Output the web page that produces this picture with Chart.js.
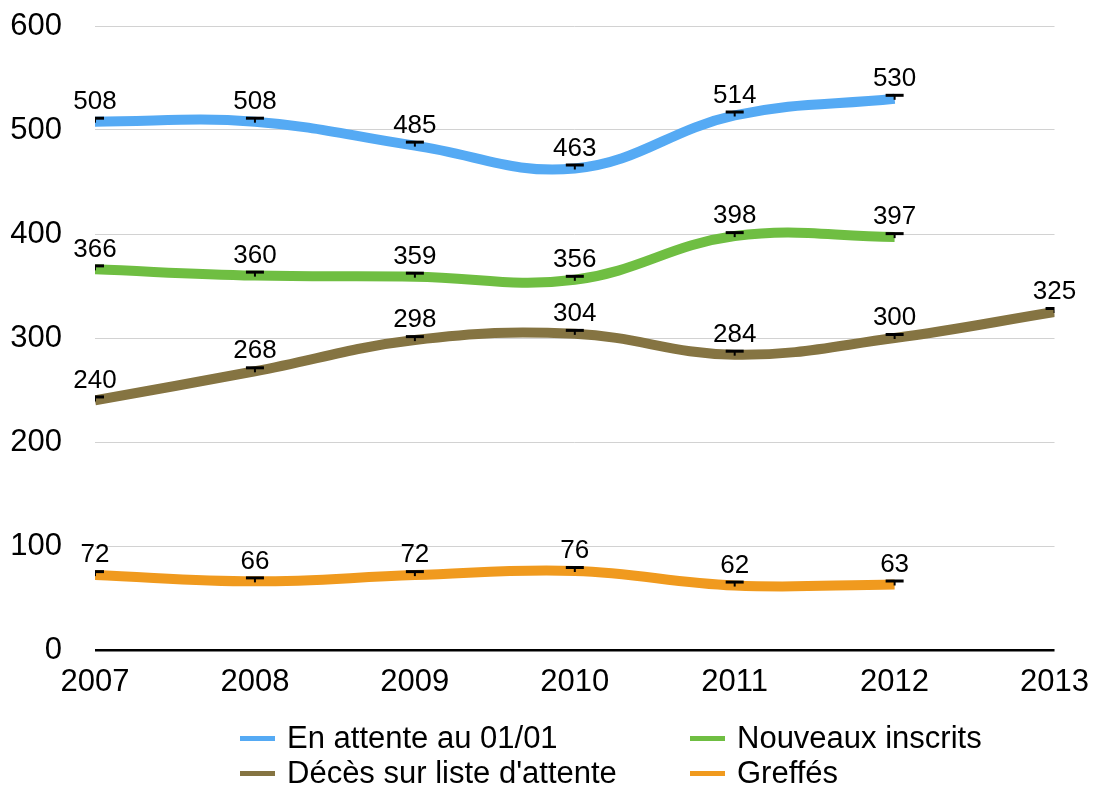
<!DOCTYPE html>
<html>
<head>
<meta charset="utf-8">
<script src="https://cdn.jsdelivr.net/npm/chart.js@4/dist/chart.umd.min.js"></script>
<style>
    html, body { margin: 0; padding: 0; background: #fff; }
    #wrap { position: relative; width: 1095px; height: 788px; }
    #legend { position: absolute; left: 0; top: 0; width: 1095px; height: 788px; pointer-events: none; }
    .item { position: absolute; font-family: "Liberation Sans", Arial, sans-serif; font-size: 31px; color: #000; white-space: nowrap; line-height: 36px; }
    .swatch { position: absolute; width: 35px; height: 5px; }
</style>
</head>
<body>
<div id="wrap">
    <canvas id="chart" width="1095" height="788"></canvas>
    <div id="legend"></div>
</div>
<script>
// Data
const years = [2007, 2008, 2009, 2010, 2011, 2012, 2013];
const enAttente = [508, 508, 485, 463, 514, 530, null];
const nouveauxInscrits = [366, 360, 359, 356, 398, 397, null];
const decesListe = [240, 268, 298, 304, 284, 300, 325];
const greffes = [72, 66, 72, 76, 62, 63, null];
const seriesNames = ['En attente au 01/01', 'Nouveaux inscrits', "Décès sur liste d'attente", 'Greffés'];
const yTicks = [0, 100, 200, 300, 400, 500, 600];

const seriesColors = ['#55aaf4', '#6fbe42', '#857442', '#f09a1e'];
const FONT = '"Liberation Sans", Arial, sans-serif';

// Little black "T" marker drawn at each data point
function makeMarker() {
    const c = document.createElement('canvas');
    c.width = 20;
    c.height = 12;
    const g = c.getContext('2d');
    g.fillStyle = '#000';
    g.fillRect(1, 1, 18, 3);
    g.fillRect(9, 4, 2, 3);
    return c;
}
const marker = makeMarker();

function toPoints(values) {
    return values.map((v, i) => ({ x: years[i], y: v })).filter(p => p.y !== null);
}

const allSeries = [enAttente, nouveauxInscrits, decesListe, greffes];

// Value labels above each point
const valueLabels = {
    id: 'valueLabels',
    afterDatasetsDraw(chart) {
        const ctx = chart.ctx;
        ctx.save();
        ctx.font = '26px ' + FONT;
        ctx.fillStyle = '#000';
        ctx.textAlign = 'center';
        ctx.textBaseline = 'middle';
        chart.data.datasets.forEach((ds, i) => {
            const meta = chart.getDatasetMeta(i);
            meta.data.forEach((pt, j) => {
                ctx.fillText(String(ds.data[j].y), pt.x, pt.y - 20);
            });
        });
        ctx.restore();
    }
};

new Chart(document.getElementById('chart'), {
    type: 'line',
    data: {
        datasets: allSeries.map((vals, i) => ({
            label: seriesNames[i],
            data: toPoints(vals),
            borderColor: seriesColors[i],
            backgroundColor: seriesColors[i],
            borderWidth: 10,
            tension: 0.4,
            pointStyle: marker,
            pointRadius: 10,
            borderCapStyle: 'butt'
        }))
    },
    options: {
        responsive: false,
        animation: false,
        layout: { autoPadding: false, padding: { top: 26, right: 38, left: 0, bottom: 78 } },
        scales: {
            x: {
                type: 'linear',
                min: years[0],
                max: years[years.length - 1],
                afterBuildTicks(scale) {
                    scale.ticks = years.map(v => ({ value: v }));
                },
                afterFit(scale) { scale.height = 60; },
                grid: { display: false },
                border: { display: false },
                ticks: {
                    padding: 6,
                    color: '#000',
                    font: { family: FONT, size: 31 },
                    callback: v => String(v),
                    maxRotation: 0,
                    autoSkip: false
                }
            },
            y: {
                min: yTicks[0],
                max: yTicks[yTicks.length - 1],
                afterBuildTicks(scale) {
                    scale.ticks = yTicks.map(v => ({ value: v }));
                },
                afterFit(scale) {
                    scale.width = 95;
                    scale.paddingTop = 0;
                    scale.paddingBottom = 0;
                },
                border: { display: false },
                grid: {
                    drawTicks: false,
                    color: ctx => ctx.tick && ctx.tick.value === 0 ? '#000' : '#d2d2d2',
                    lineWidth: ctx => ctx.tick && ctx.tick.value === 0 ? 2.5 : 1
                },
                ticks: {
                    padding: 33,
                    color: '#000',
                    font: { family: FONT, size: 31 }
                }
            }
        },
        plugins: {
            legend: { display: false },
            tooltip: { enabled: false }
        }
    },
    plugins: [valueLabels]
});

// Legend in two columns below the chart
const legendPos = [
    { x: 240, y: 738 },
    { x: 690, y: 738 },
    { x: 240, y: 773 },
    { x: 690, y: 773 }
];
const legend = document.getElementById('legend');
seriesNames.forEach((name, i) => {
    const p = legendPos[i];
    const sw = document.createElement('div');
    sw.className = 'swatch';
    sw.style.left = p.x + 'px';
    sw.style.top = (p.y - 2) + 'px';
    sw.style.background = seriesColors[i];
    legend.appendChild(sw);
    const t = document.createElement('div');
    t.className = 'item';
    t.style.left = (p.x + 47) + 'px';
    t.style.top = (p.y - 18) + 'px';
    t.textContent = name;
    legend.appendChild(t);
});
</script>
</body>
</html>
